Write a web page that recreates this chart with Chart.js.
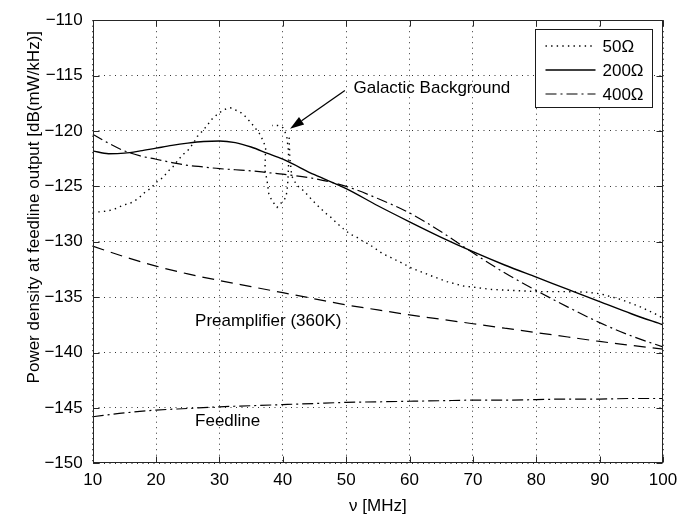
<!DOCTYPE html>
<html>
<head>
<meta charset="utf-8">
<script src="https://cdn.jsdelivr.net/npm/chart.js@4.4.1/dist/chart.umd.min.js"></script>
<style>
  html, body { margin: 0; padding: 0; background: #fff; }
  #wrap { width: 694px; height: 518px; }
</style>
</head>
<body>
<div id="wrap"><canvas id="c" width="694" height="518"></canvas></div>
<script>
// Frequency grids, MHz
const freqFine = [10, 12.5, 15, 17.5, 20, 22.5, 25, 27.5, 30, 32.5, 35, 37.5, 40,
                  45, 50, 55, 60, 65, 70, 75, 80, 85, 90, 95, 100];
const freqCoarse = [10, 15, 20, 25, 30, 35, 40, 45, 50, 55, 60, 65, 70, 75, 80, 85, 90, 95, 100];

// Galactic background at the feedline output for three antenna impedances, dB(mW/kHz)
const ant200 = [-121.8, -122.05, -122.0, -121.8, -121.55, -121.3, -121.1, -120.95, -120.9,
                -121.05, -121.45, -122.0, -122.55, -123.95, -125.2, -126.75, -128.2, -129.6,
                -130.9, -132.1, -133.2, -134.3, -135.4, -136.5, -137.5];
const ant400 = [-120.3, -121.1, -121.8, -122.25, -122.55, -122.85, -123.1, -123.25, -123.4,
                -123.5, -123.6, -123.75, -123.9, -124.3, -125.0, -126.1, -127.4, -129.1,
                -131.0, -132.8, -134.4, -135.9, -137.3, -138.5, -139.5];

// The 50 ohm curve folds back on itself around the resonance, so it keeps its own
// frequency list in drawing order (null marks a break in the trace)
const freq50 = [10, 11.3, 12.5, 13.7, 14.8, 16.0, 17.2, 18.3, 19.1, 20.1,
                21.1, 21.8, 22.7, 23.5, 24.3, 25.1, 25.9, 26.5, 27.5, 29.0,
                30.6, 31.7, 33.3, 34.1, 34.9, 35.6, 36.4, 36.9, 37.3, 37.2,
                37.2, 37.5, 37.8, 38.3, 39.1, 39.9, 40.5, 40.7, 40.8, 40.9,
                40.9, 40.6, 40.0, 39.2, 38.3, 40.9, 41.0, 41.1, 41.4, 42.2,
                43.3, 44.1, 44.9, 45.8, 46.7, 47.6, 48.5, 49.5, 50.6, 51.7,
                52.5, 53.8, 54.8, 55.8, 57.0, 58.0, 59.1, 60, 63.3, 65.9,
                68.5, 70.1, 72.8, 76.4, 80.1, 84.3, 88, 90.1, 93.3, 96.5,
                99.1, 100];
const ant50 = [-127.3, -127.3, -127.2, -127.0, -126.7, -126.5, -126.1, -125.5, -125.2, -124.6,
               -124.2, -123.7, -123.2, -122.6, -122.1, -121.7, -121.1, -120.5, -119.9, -118.8,
               -118.1, -117.9, -118.3, -118.7, -119.2, -119.7, -120.3, -120.9, -121.5, -122.9,
               -123.6, -124.4, -125.7, -126.3, -126.9, -126.4, -126.0, -125.2, -124.5, -123.2,
               -121.8, -120.4, -119.7, -119.5, -119.5, null, -120.6, -122.3, -124.05, -124.9,
               -125.4, -125.9, -126.4, -126.9, -127.4, -127.8, -128.3, -128.8, -129.3, -129.6,
               -129.9, -130.3, -130.7, -131.1, -131.4, -131.7, -132.0, -132.3, -133.05, -133.6,
               -134.0, -134.1, -134.3, -134.4, -134.5, -134.5, -134.55, -134.7, -135.2, -135.9,
               -136.6, -136.9];

// Receiver noise contributions, dB(mW/kHz)
const preamp = [-130.4, -131.35, -132.2, -132.9, -133.5, -134.05, -134.6, -135.15, -135.7,
                -136.15, -136.6, -137.0, -137.4, -137.8, -138.2, -138.6, -139.0, -139.35, -139.7];
const feedline = [-145.8, -145.45, -145.2, -145.05, -144.9, -144.8, -144.7, -144.6, -144.5,
                  -144.45, -144.4, -144.35, -144.3, -144.3, -144.25, -144.2, -144.2, -144.15, -144.15];

// Legend entries and axis ranges
const impedanceLabels = ['50\u03A9', '200\u03A9', '400\u03A9'];
const xRange = [10, 100];
const yRange = [-150, -110];
const xTitle = '\u03BD [MHz]';
const yTitle = 'Power density at feedline output [dB(mW/kHz)]';

const FONT = "'Liberation Sans', Arial, Helvetica, sans-serif";
const pts = (xs, ys) => xs.map((x, i) => ({ x: x, y: ys[i] }));

const DASHDOT = [11, 4, 2, 4];

const datasets = [
  { label: impedanceLabels[0], data: pts(freq50, ant50), borderColor: '#000',
    borderWidth: 1.4, borderDash: [1.4, 4.2], tension: 0, legend: true },
  { label: impedanceLabels[1], data: pts(freqFine, ant200), borderColor: '#000',
    borderWidth: 1.4, borderDash: [], cubicInterpolationMode: 'monotone', legend: true },
  { label: impedanceLabels[2], data: pts(freqFine, ant400), borderColor: '#000',
    borderWidth: 1.2, borderDash: DASHDOT, cubicInterpolationMode: 'monotone', legend: true },
  { label: 'Preamplifier (360K)', data: pts(freqCoarse, preamp), borderColor: '#000',
    borderWidth: 1.2, borderDash: [12, 7], cubicInterpolationMode: 'monotone', legend: false },
  { label: 'Feedline', data: pts(freqCoarse, feedline), borderColor: '#000',
    borderWidth: 1.2, borderDash: DASHDOT, cubicInterpolationMode: 'monotone', legend: false }
].map(d => Object.assign({ showLine: true, pointRadius: 0, pointHoverRadius: 0, fill: false,
                           spanGaps: false }, d));

// Box frame with inward tick marks on all four sides
const framePlugin = {
  id: 'frame',
  afterDatasetsDraw(chart) {
    const { ctx, chartArea: a, scales: { x, y } } = chart;
    const L = Math.round(a.left) + 0.5, R = Math.round(a.right) - 0.5;
    const T = Math.round(a.top) + 0.5, B = Math.round(a.bottom) - 0.5;
    ctx.save();
    ctx.strokeStyle = '#262626';
    ctx.lineWidth = 1;
    ctx.setLineDash([]);
    ctx.strokeRect(L, T, R - L, B - T);
    ctx.beginPath();
    const len = 6;
    x.ticks.forEach(t => {
      const px = Math.round(x.getPixelForValue(t.value)) + 0.5;
      ctx.moveTo(px, B); ctx.lineTo(px, B - len);
      ctx.moveTo(px, T); ctx.lineTo(px, T + len);
    });
    y.ticks.forEach(t => {
      const py = Math.round(y.getPixelForValue(t.value)) + 0.5;
      ctx.moveTo(L, py); ctx.lineTo(L + len, py);
      ctx.moveTo(R, py); ctx.lineTo(R - len, py);
    });
    ctx.stroke();
    ctx.restore();
  }
};

// Curve labels and the arrow pointing at the resonance
const noteLabels = [
  { text: 'Galactic Background', x: 51.15, y: -116.55 },
  { text: 'Preamplifier (360K)', x: 26.15, y: -137.6 },
  { text: 'Feedline', x: 26.15, y: -146.6 }
];
const arrowFrom = { x: 49.8, y: -116.35 };
const arrowTo = { x: 41.15, y: -119.8 };

const notesPlugin = {
  id: 'notes',
  afterDatasetsDraw(chart) {
    const { ctx, scales: { x, y } } = chart;
    ctx.save();
    ctx.fillStyle = '#000';
    ctx.font = '17px ' + FONT;
    ctx.textAlign = 'left';
    ctx.textBaseline = 'alphabetic';
    noteLabels.forEach(n => ctx.fillText(n.text, x.getPixelForValue(n.x), y.getPixelForValue(n.y)));

    const x0 = x.getPixelForValue(arrowFrom.x), y0 = y.getPixelForValue(arrowFrom.y);
    const x1 = x.getPixelForValue(arrowTo.x), y1 = y.getPixelForValue(arrowTo.y);
    const ang = Math.atan2(y1 - y0, x1 - x0);
    const head = 14, half = 4.5;
    const bx = x1 - head * Math.cos(ang), by = y1 - head * Math.sin(ang);
    ctx.strokeStyle = '#000';
    ctx.lineWidth = 1.3;
    ctx.beginPath();
    ctx.moveTo(x0, y0); ctx.lineTo(bx, by);
    ctx.stroke();
    ctx.beginPath();
    ctx.moveTo(x1, y1);
    ctx.lineTo(bx + half * Math.sin(ang), by - half * Math.cos(ang));
    ctx.lineTo(bx - half * Math.sin(ang), by + half * Math.cos(ang));
    ctx.closePath();
    ctx.fill();
    ctx.restore();
  }
};

// Boxed legend in the upper right corner of the plot
const legendPlugin = {
  id: 'boxLegend',
  afterDraw(chart) {
    const { ctx, chartArea: a } = chart;
    const items = chart.data.datasets.filter(d => d.legend);
    const w = 117, h = 78;
    const left = Math.round(a.right - 11 - w) + 0.5, top = Math.round(a.top + 9) + 0.5;
    ctx.save();
    ctx.fillStyle = '#fff';
    ctx.fillRect(left, top, w, h);
    ctx.strokeStyle = '#1a1a1a';
    ctx.lineWidth = 1;
    ctx.setLineDash([]);
    ctx.strokeRect(left, top, w, h);
    ctx.font = '17px ' + FONT;
    ctx.textBaseline = 'middle';
    ctx.textAlign = 'left';
    items.forEach((d, i) => {
      const cy = Math.round(top + 16 + i * 24);
      ctx.strokeStyle = d.borderColor;
      ctx.lineWidth = d.borderWidth;
      ctx.setLineDash(d.borderDash || []);
      ctx.beginPath();
      ctx.moveTo(left + 10, cy);
      ctx.lineTo(left + 60, cy);
      ctx.stroke();
      ctx.fillStyle = '#000';
      ctx.fillText(d.label, left + 67, cy + 1);
    });
    ctx.restore();
  }
};

// Rotated y-axis title
const yTitlePlugin = {
  id: 'yTitle',
  afterDraw(chart) {
    const { ctx, chartArea: a } = chart;
    ctx.save();
    ctx.translate(34, a.top + 187);
    ctx.rotate(-Math.PI / 2);
    ctx.font = '17px ' + FONT;
    ctx.fillStyle = '#000';
    ctx.textAlign = 'center';
    ctx.textBaseline = 'middle';
    ctx.fillText(yTitle, 0, 0);
    ctx.restore();
  }
};

Chart.defaults.font.family = FONT;
Chart.defaults.font.size = 17;
Chart.defaults.color = '#000';

new Chart(document.getElementById('c'), {
  type: 'scatter',
  data: { datasets: datasets },
  options: {
    responsive: false,
    devicePixelRatio: 1,
    animation: false,
    events: [],
    layout: { padding: { left: 0, right: 31, top: 13.8, bottom: 0 } },
    plugins: { legend: { display: false }, tooltip: { enabled: false } },
    scales: {
      x: {
        type: 'linear',
        min: xRange[0], max: xRange[1],
        afterFit: s => { s.height = 54.7; },
        ticks: { stepSize: 10, padding: 7, color: '#000', font: { size: 17 } },
        grid: { color: 'rgba(0,0,0,0.8)', lineWidth: 1, drawTicks: false },
        border: { display: false, dash: [1, 4.5] },
        title: { display: true, text: xTitle, padding: { top: 0, bottom: 1 }, font: { size: 17 } }
      },
      y: {
        type: 'linear',
        min: yRange[0], max: yRange[1],
        afterFit: s => { s.width = 92.7; },
        ticks: { stepSize: 5, padding: 10, color: '#000', font: { size: 17 },
                 callback: v => String(v).replace('-', '\u2212') },
        grid: { color: 'rgba(0,0,0,0.8)', lineWidth: 1, drawTicks: false },
        border: { display: false, dash: [1, 4.5] }
      }
    }
  },
  plugins: [framePlugin, notesPlugin, legendPlugin, yTitlePlugin]
});
</script>
</body>
</html>
